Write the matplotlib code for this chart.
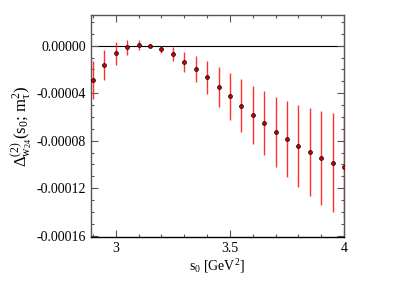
import matplotlib
matplotlib.use("Agg")
import matplotlib.pyplot as plt
from matplotlib.ticker import MultipleLocator, FormatStrFormatter

s0 = [2.90, 2.95, 3.00, 3.05, 3.10, 3.15, 3.20, 3.25, 3.30, 3.35, 3.40, 3.45,
      3.50, 3.55, 3.60, 3.65, 3.70, 3.75, 3.80, 3.85, 3.90, 3.95, 4.00]
delta = [-2.89e-5, -1.63e-5, -0.65e-5, -0.14e-5, 0.06e-5, -0.01e-5, -0.31e-5,
         -0.70e-5, -1.35e-5, -1.96e-5, -2.67e-5, -3.48e-5, -4.27e-5, -5.05e-5,
         -5.84e-5, -6.51e-5, -7.28e-5, -7.83e-5, -8.45e-5, -8.98e-5, -9.43e-5,
         -9.85e-5, -10.20e-5]
err = [1.60e-5, 1.27e-5, 0.97e-5, 0.65e-5, 0.39e-5, 0.12e-5, 0.30e-5, 0.55e-5,
       0.86e-5, 1.12e-5, 1.39e-5, 1.70e-5, 1.97e-5, 2.23e-5, 2.46e-5, 2.70e-5,
       2.98e-5, 3.20e-5, 3.48e-5, 3.72e-5, 3.96e-5, 4.20e-5, 4.40e-5]

plt.rcParams['font.family'] = ['Liberation Serif', 'DejaVu Serif']
plt.rcParams['mathtext.fontset'] = 'custom'
plt.rcParams['mathtext.rm'] = 'Liberation Serif'
plt.rcParams['mathtext.it'] = 'Liberation Serif:italic'

fig = plt.figure(figsize=(4.03, 2.85), dpi=100)
ax = fig.add_axes([0.225, 0.169, 0.629, 0.779])

ax.axhline(0, color='black', lw=0.8, zorder=1)
ax.errorbar(s0, delta, yerr=err, fmt='o', ms=2.8, mfc='#cc0000', mec='black',
            mew=0.5, ecolor='#ff3030', elinewidth=1.0, capsize=0, zorder=3)

ax.set_xlim(2.89, 4.0)
ax.set_ylim(-0.000161, 0.000026)
ax.xaxis.set_major_locator(MultipleLocator(0.5))
ax.xaxis.set_minor_locator(MultipleLocator(0.1))
ax.yaxis.set_major_locator(MultipleLocator(0.00004))
ax.yaxis.set_minor_locator(MultipleLocator(0.00001))
ax.xaxis.set_major_formatter(FormatStrFormatter('%g'))
ax.yaxis.set_major_formatter(FormatStrFormatter('%.5f'))

ax.tick_params(which='both', direction='in', top=True, right=True,
               labelsize=10, color='#555555')
ax.tick_params(which='major', length=5, width=0.8)
ax.tick_params(which='minor', length=2.5, width=0.8)
for sp in ax.spines.values():
    sp.set_color('#555555')
    sp.set_linewidth(1.0)
ax.spines['bottom'].set_color('black')

ax.set_xlabel(r'$\mathrm{s_0\ [GeV^2]}$', fontsize=10, labelpad=2)
ax.set_ylabel(r'$\mathrm{\Delta^{(2)}_{w_{24}}(s_0;\,m_\tau^2)}$', fontsize=12,
              labelpad=1)

fig.savefig('out.png', dpi=100)
